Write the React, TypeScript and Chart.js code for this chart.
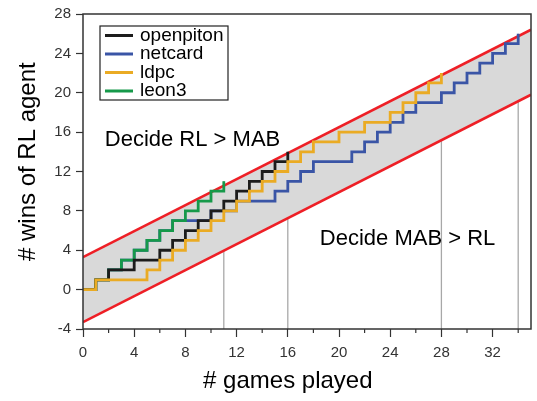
import React, { useEffect, useRef } from 'react';
import { Chart, registerables } from 'chart.js';

Chart.register(...registerables);

// ---- data (index = number of games played) ----
const seriesNames = ['openpiton', 'netcard', 'ldpc', 'leon3'];
const openpiton = [0, 1, 2, 2, 3, 3, 4, 5, 6, 7, 8, 9, 10, 11, 12, 13, 14];
const netcard = [0, 1, 2, 3, 4, 5, 6, 7, 7, 7, 8, 8, 9, 9, 9, 10, 11, 12, 13, 13, 13, 14, 15, 16, 17, 18, 19, 19, 20, 21, 22, 23, 24, 25, 26];
const ldpc = [0, 1, 1, 1, 1, 2, 3, 4, 5, 6, 7, 8, 9, 10, 11, 12, 13, 14, 15, 15, 16, 16, 17, 17, 18, 19, 20, 21, 22];
const leon3 = [0, 1, 2, 3, 4, 5, 6, 7, 8, 9, 10, 11];

// decision boundaries (SPRT lines)
const boundGames = [0, 35];
const upperBound = [3.3, 26.4];
const lowerBound = [-3.3, 19.8];

const X_MIN = 0;
const X_MAX = 35;
const Y_MIN = -4;
const Y_MAX = 28;

const annotations = [
  { text: 'Decide RL > MAB', x: 1.7, y: 15.2 },
  { text: 'Decide MAB > RL', x: 18.5, y: 5.2 },
];

const seriesColors = ['#1c1c1c', '#3a55a6', '#eaab24', '#16994a'];
const FONT = '"Liberation Sans", Arial, Helvetica, sans-serif';

const toPoints = (arr: number[]) => arr.map((v, i) => ({ x: i, y: v }));

const framePlugin = {
  id: 'frameAndText',
  afterDraw(chart: any) {
    const { ctx, chartArea } = chart;
    const xs = chart.scales.x;
    const ys = chart.scales.y;
    ctx.save();
    // frame
    ctx.strokeStyle = '#333';
    ctx.lineWidth = 1.5;
    ctx.strokeRect(chartArea.left, chartArea.top, chartArea.right - chartArea.left, chartArea.bottom - chartArea.top);
    // minor x ticks
    ctx.lineWidth = 1.2;
    for (let v = 2; v < X_MAX; v += 4) {
      const px = xs.getPixelForValue(v);
      ctx.beginPath();
      ctx.moveTo(px, chartArea.bottom);
      ctx.lineTo(px, chartArea.bottom + 4);
      ctx.stroke();
    }
    // annotations
    ctx.fillStyle = '#000';
    ctx.font = `22px ${FONT}`;
    ctx.textBaseline = 'middle';
    ctx.textAlign = 'left';
    annotations.forEach((a) => {
      ctx.fillText(a.text, xs.getPixelForValue(a.x), ys.getPixelForValue(a.y));
    });
    // axis titles
    ctx.font = `24px ${FONT}`;
    ctx.textAlign = 'center';
    ctx.fillText('# games played', xs.getPixelForValue(16), 381);
    ctx.save();
    ctx.translate(28, ys.getPixelForValue(13));
    ctx.rotate(-Math.PI / 2);
    ctx.fillText('# wins of RL agent', 0, 0);
    ctx.restore();
    // legend
    const left = chartArea.left + 17;
    const top = chartArea.top + 12;
    const w = 128;
    const h = 74;
    ctx.fillStyle = '#fff';
    ctx.fillRect(left, top, w, h);
    ctx.strokeStyle = '#222';
    ctx.lineWidth = 1.2;
    ctx.strokeRect(left, top, w, h);
    ctx.font = `19px ${FONT}`;
    ctx.textAlign = 'left';
    ctx.textBaseline = 'middle';
    seriesNames.forEach((name, i) => {
      const y = top + 9.5 + i * 18.5;
      ctx.strokeStyle = seriesColors[i];
      ctx.lineWidth = 3;
      ctx.beginPath();
      ctx.moveTo(left + 5, y);
      ctx.lineTo(left + 33, y);
      ctx.stroke();
      ctx.fillStyle = '#000';
      ctx.fillText(name, left + 40, y);
    });
    ctx.restore();
  },
};

export default function App() {
  const ref = useRef<HTMLCanvasElement | null>(null);

  useEffect(() => {
    if (!ref.current) return;
    const allSeries = [openpiton, netcard, ldpc, leon3];
    const zOrder = [1, 3, 0, 2];
    const seriesSets = allSeries.map((arr, i) => ({
      label: seriesNames[i],
      data: toPoints(arr),
      borderColor: seriesColors[i],
      borderWidth: 2.8,
      stepped: 'before' as const,
      pointRadius: 0,
      fill: false,
      order: zOrder[i],
    }));
    const endLines = allSeries.map((arr) => ({
      label: 'end',
      data: [
        { x: arr.length - 1, y: Y_MIN },
        { x: arr.length - 1, y: arr[arr.length - 1] },
      ],
      borderColor: '#a8a8a8',
      borderWidth: 1.3,
      pointRadius: 0,
      fill: false,
      order: 6,
    }));
    const chart = new Chart(ref.current, {
      type: 'line',
      data: {
        datasets: [
          {
            label: 'lower',
            data: boundGames.map((g, i) => ({ x: g, y: lowerBound[i] })),
            borderColor: '#ee1f26',
            borderWidth: 2.6,
            pointRadius: 0,
            fill: false,
            order: 5,
          },
          {
            label: 'upper',
            data: boundGames.map((g, i) => ({ x: g, y: upperBound[i] })),
            borderColor: '#ee1f26',
            borderWidth: 2.6,
            pointRadius: 0,
            backgroundColor: '#d9d9d9',
            fill: '-1',
            order: 5,
          },
          ...seriesSets,
          ...endLines,
        ] as any,
      },
      options: {
        animation: false,
        responsive: false,
        devicePixelRatio: 1,
        layout: { padding: { top: 10, right: 6, left: 0, bottom: 0 } },
        plugins: {
          legend: { display: false },
          tooltip: { enabled: false },
        },
        scales: {
          x: {
            type: 'linear',
            min: X_MIN,
            max: X_MAX,
            afterFit: (s: any) => {
              s.height = 72;
            },
            border: { display: false },
            grid: { drawOnChartArea: false, drawTicks: true, tickLength: 8, tickColor: '#333', tickWidth: 1.2 },
            ticks: {
              stepSize: 4,
              includeBounds: false,
              maxRotation: 0,
              autoSkip: false,
              padding: 7,
              color: '#333',
              font: { family: FONT, size: 15 },
            },
          },
          y: {
            type: 'linear',
            min: Y_MIN,
            max: Y_MAX,
            afterFit: (s: any) => {
              s.width = 83;
            },
            border: { display: false },
            grid: { drawOnChartArea: false, drawTicks: true, tickLength: 7, tickColor: '#333', tickWidth: 1.2 },
            ticks: {
              stepSize: 4,
              includeBounds: false,
              padding: 5,
              color: '#333',
              font: { family: FONT, size: 15 },
            },
          },
        },
      },
      plugins: [framePlugin],
    });
    return () => chart.destroy();
  }, []);

  return (
    <div style={{ position: 'fixed', left: 0, top: 0, width: 537, height: 401, background: '#fff' }}>
      <canvas ref={ref} width={537} height={401} style={{ width: 537, height: 401, display: 'block' }} />
    </div>
  );
}
